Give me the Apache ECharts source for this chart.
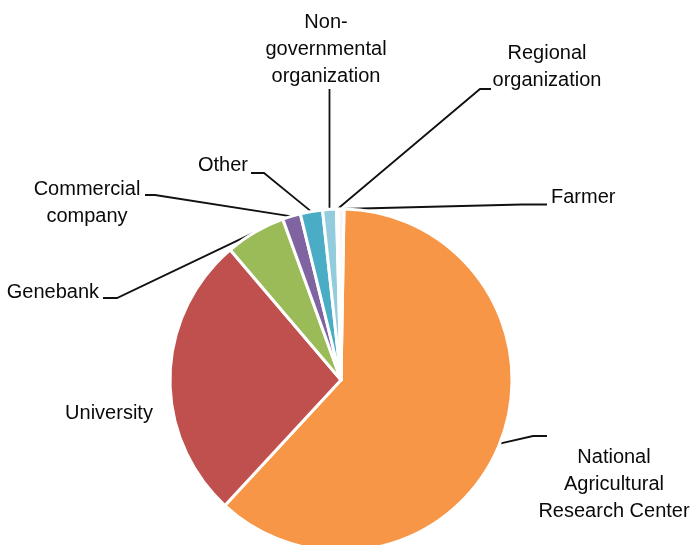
<!DOCTYPE html>
<html>
<head>
<meta charset="utf-8">
<script src="https://cdn.jsdelivr.net/npm/echarts@6/dist/echarts.min.js"></script>
<style>
html,body{margin:0;padding:0;background:#fff;}
#chart{width:691px;height:545px;}
</style>
</head>
<body>
<div id="chart"></div>
<script>
// Data (share of accessions, %)
var categories = ['National Agricultural Research Center', 'University', 'Genebank', 'Commercial company', 'Other', 'Non-governmental organization', 'Regional organization', 'Farmer'];
var labelTexts = ['National\nAgricultural\nResearch Center', 'University', 'Genebank', 'Commercial\ncompany', 'Other', 'Non-\ngovernmental\norganization', 'Regional\norganization', 'Farmer'];
var values = [61.6, 26.9, 5.7, 1.7, 2.1, 1.3, 0.2, 0.5];
var colors = ['#F79646', '#C0504D', '#9BBB59', '#8064A2', '#4BACC6', '#93CDDD', '#A8B6E0', '#F2F2F8'];

// Label placement (layout only)
var labelPos = [
  {x: 614, y: 484, align: 'center', stub: [[533, 436], [547, 436]]},
  {x: 109, y: 413, align: 'center', stub: null},
  {x: 99, y: 292, align: 'right', stub: [[117, 298], [103, 298]]},
  {x: 87, y: 203, align: 'center', stub: [[155, 195], [145, 195]]},
  {x: 248, y: 165, align: 'right', stub: [[264, 173], [251, 173]]},
  {x: 326, y: 49, align: 'center', stub: 'vertical', top: 89},
  {x: 547, y: 67, align: 'center', stub: [[480, 89], [491, 89]]},
  {x: 551, y: 197, align: 'left', stub: [[522, 204.5], [547, 204.5]]}
];

var chart = echarts.init(document.getElementById('chart'), null, {renderer: 'canvas'});
var data = categories.map(function (c, i) {
  var item = {name: c, value: values[i], itemStyle: {color: colors[i]}};
  if (i === 1) item.labelLine = {show: false};
  return item;
});

chart.setOption({
  backgroundColor: '#ffffff',
  animation: false,
  series: [{
    type: 'pie',
    center: [341, 380],
    radius: 171,
    startAngle: 89,
    clockwise: true,
    avoidLabelOverlap: false,
    itemStyle: {borderColor: '#ffffff', borderWidth: 3},
    emphasis: {disabled: true},
    label: {
      show: true,
      position: 'outside',
      formatter: function (p) { return labelTexts[p.dataIndex]; },
      fontFamily: 'Liberation Sans, Arial, sans-serif',
      fontSize: 20,
      lineHeight: 27,
      color: '#0a0a0a'
    },
    labelLine: {show: true, length: 10, length2: 10, lineStyle: {color: '#111111', width: 1.8}},
    labelLayout: function (params) {
      var L = labelPos[params.dataIndex];
      var res = {x: L.x, y: L.y, align: L.align, verticalAlign: 'middle'};
      var pts = params.labelLinePoints;
      if (L.stub && pts && pts.length) {
        var p0 = pts[0];
        if (L.stub === 'vertical') {
          res.labelLinePoints = [p0, [p0[0], L.top], [p0[0], L.top]];
        } else {
          res.labelLinePoints = [p0, L.stub[0], L.stub[1]];
        }
      }
      return res;
    },
    data: data
  }]
});
</script>
</body>
</html>
